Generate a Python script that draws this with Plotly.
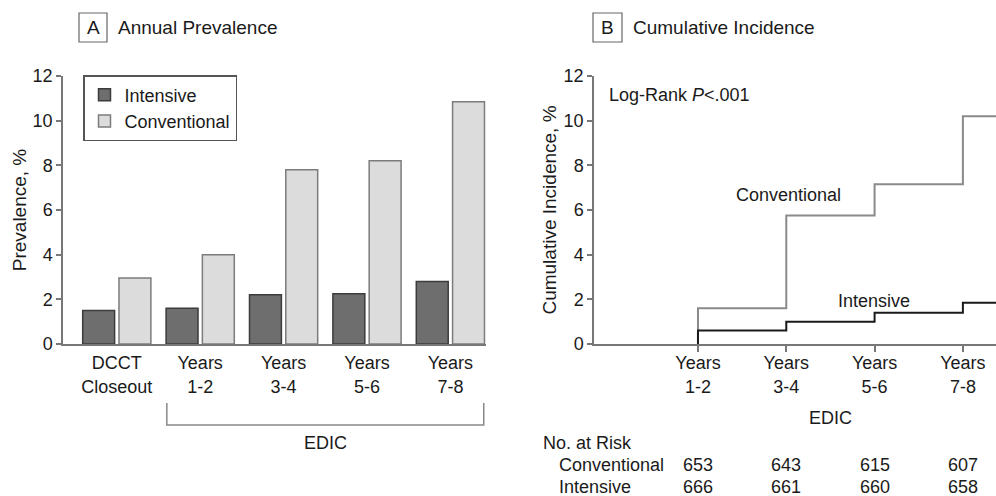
import plotly.graph_objects as go

FONT = "Liberation Sans, Arial, Helvetica, sans-serif"
TXT = "#1a1a1a"
AX = "#777777"

# ---------------- data ----------------
periods_a = ["DCCT<br>Closeout", "Years<br>1-2", "Years<br>3-4", "Years<br>5-6", "Years<br>7-8"]
intensive_prev = [1.5, 1.6, 2.2, 2.25, 2.8]
conventional_prev = [2.95, 4.0, 7.8, 8.2, 10.85]

years_b = [2, 4, 6, 8]
ticktext_b = ["Years<br>1-2", "Years<br>3-4", "Years<br>5-6", "Years<br>7-8"]
conventional_cum = [1.6, 5.75, 7.15, 10.2]
intensive_cum = [0.6, 1.0, 1.4, 1.85]
at_risk_conventional = [653, 643, 615, 607]
at_risk_intensive = [666, 661, 660, 658]

XB_RANGE = [-0.355, 8.75]

fig = go.Figure()

# Panel A bars
fig.add_trace(go.Bar(
    x=periods_a, y=intensive_prev, name="Intensive",
    marker=dict(color="#6e6e6e", line=dict(color="#3c3c3c", width=1.5)),
    xaxis="x", yaxis="y"))
fig.add_trace(go.Bar(
    x=periods_a, y=conventional_prev, name="Conventional",
    marker=dict(color="#dcdcdc", line=dict(color="#7c7c7c", width=1.5)),
    xaxis="x", yaxis="y"))

# Panel B step curves
fig.add_trace(go.Scatter(
    x=[years_b[0]] + years_b + [XB_RANGE[1]],
    y=[0] + conventional_cum + [conventional_cum[-1]],
    mode="lines", line=dict(color="#8a8a8a", width=2, shape="hv"),
    showlegend=False, xaxis="x2", yaxis="y2", name="Conventional"))
fig.add_trace(go.Scatter(
    x=[years_b[0]] + years_b + [XB_RANGE[1]],
    y=[0] + intensive_cum + [intensive_cum[-1]],
    mode="lines", line=dict(color="#1a1a1a", width=2, shape="hv"),
    showlegend=False, xaxis="x2", yaxis="y2", name="Intensive"))

Y_DOM = [1 - 344 / 496, 1 - 76 / 496]
axis_common = dict(showline=True, linecolor=AX, linewidth=1.5, showgrid=False,
                   zeroline=False, tickfont=dict(size=18, color=TXT), fixedrange=True,
                   automargin=False)

fig.update_layout(
    template="none",
    width=996, height=496,
    margin=dict(l=0, r=0, t=0, b=0, pad=0, autoexpand=False),
    paper_bgcolor="white", plot_bgcolor="white",
    font=dict(family=FONT, size=18, color=TXT),
    barmode="group", bargap=0.13, bargroupgap=0.12,
    legend=dict(x=83 / 996, y=1 - 75 / 496, xanchor="left", yanchor="top",
                bordercolor="#555555", borderwidth=1.5, bgcolor="white",
                font=dict(size=18, color=TXT)),
    xaxis=dict(domain=[63 / 996, 486 / 996], range=[-0.645, 4.427],
               ticks="outside", ticklen=2, tickcolor="rgba(0,0,0,0)",
               anchor="y", **axis_common),
    yaxis=dict(domain=Y_DOM, range=[0, 12], tickvals=list(range(0, 13, 2)),
               ticks="outside", ticklen=5, tickcolor=AX, tickwidth=1.5, anchor="x",
               title=dict(text="Prevalence, %", standoff=1, font=dict(size=19)),
               **axis_common),
    xaxis2=dict(domain=[594 / 996, 1.0], range=XB_RANGE, tickvals=years_b,
                ticktext=ticktext_b, ticks="outside", ticklen=6, tickcolor=AX,
                tickwidth=1.5, ticklabelstandoff=-4, anchor="y2", **axis_common),
    yaxis2=dict(domain=Y_DOM, range=[0, 12], tickvals=list(range(0, 13, 2)),
                ticks="outside", ticklen=5, tickcolor=AX, tickwidth=1.5, anchor="x2",
                title=dict(text="Cumulative Incidence, %", standoff=2, font=dict(size=19)),
                **axis_common),
)

shapes = []
annots = []

def py(px):
    return 1 - px / 496

def pxx(px):
    return px / 996

# Panel titles with boxed letters
for letter, x0, x1, title, tx in [("A", 79, 107, "Annual Prevalence", 116),
                                   ("B", 593, 622, "Cumulative Incidence", 631)]:
    shapes.append(dict(type="rect", xref="paper", yref="paper",
                       x0=pxx(x0), x1=pxx(x1), y0=py(42), y1=py(13),
                       line=dict(color="#666666", width=1.2)))
    annots.append(dict(text=letter, xref="paper", yref="paper", x=pxx((x0 + x1) / 2),
                       y=py(28), xanchor="center", yanchor="middle", showarrow=False,
                       font=dict(size=19)))
    annots.append(dict(text=title, xref="paper", yref="paper", x=pxx(tx), y=py(28),
                       xanchor="left", yanchor="middle", showarrow=False,
                       font=dict(size=19)))

# EDIC bracket in panel A
shapes.append(dict(type="path", xref="x", yref="paper",
                   path=f"M 0.6,{py(403)} L 0.6,{py(425)} L 4.4,{py(425)} L 4.4,{py(403)}",
                   line=dict(color="#888888", width=1.5)))
annots.append(dict(text="EDIC", xref="x", yref="paper", x=2.5, y=py(443),
                   xanchor="center", yanchor="middle", showarrow=False))

# Panel B labels
annots.append(dict(text="Log-Rank <i>P</i>&lt;.001", xref="x2", yref="y2", x=-0.07, y=11.15,
                   xanchor="left", yanchor="middle", showarrow=False))
annots.append(dict(text="Conventional", xref="x2", yref="y2", x=4.04, y=6.65,
                   xanchor="center", yanchor="middle", showarrow=False))
annots.append(dict(text="Intensive", xref="x2", yref="y2", x=5.99, y=1.93,
                   xanchor="center", yanchor="middle", showarrow=False))
annots.append(dict(text="EDIC", xref="x2", yref="paper", x=5.0, y=py(418),
                   xanchor="center", yanchor="middle", showarrow=False))

# Number at risk table
annots.append(dict(text="No. at Risk", xref="paper", yref="paper", x=pxx(541), y=py(443),
                   xanchor="left", yanchor="middle", showarrow=False))
annots.append(dict(text="Conventional", xref="paper", yref="paper", x=pxx(557), y=py(465),
                   xanchor="left", yanchor="middle", showarrow=False))
annots.append(dict(text="Intensive", xref="paper", yref="paper", x=pxx(557), y=py(487),
                   xanchor="left", yanchor="middle", showarrow=False))
for xv, c, i in zip(years_b, at_risk_conventional, at_risk_intensive):
    annots.append(dict(text=str(c), xref="x2", yref="paper", x=xv, y=py(465),
                       xanchor="center", yanchor="middle", showarrow=False))
    annots.append(dict(text=str(i), xref="x2", yref="paper", x=xv, y=py(487),
                       xanchor="center", yanchor="middle", showarrow=False))

fig.update_layout(shapes=shapes, annotations=annots)
fig.write_html("out.html")
